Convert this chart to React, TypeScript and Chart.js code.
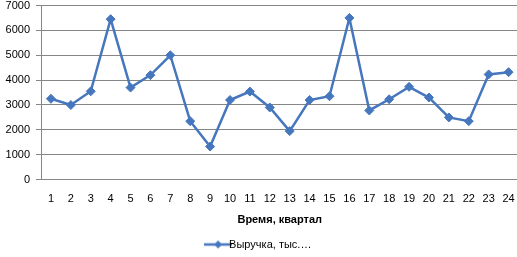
import React, { useEffect, useRef } from "react";
import { Chart, registerables } from "chart.js";
Chart.register(...registerables);

const categories = ["1","2","3","4","5","6","7","8","9","10","11","12","13","14","15","16","17","18","19","20","21","22","23","24"];
const revenue = [3250, 3000, 3550, 6450, 3700, 4200, 5000, 2350, 1330, 3200, 3540, 2900, 1950, 3200, 3350, 6500, 2780, 3230, 3730, 3300, 2500, 2350, 4230, 4320];
const seriesName = "Выручка, тыс.…";
const xTitle = "Время, квартал";
const yMin = 0;
const yMax = 7000;
const yStep = 1000;

const BLUE = "#4677BE";
const FONT = "'Liberation Sans', Arial, sans-serif";

function legendIcon(): HTMLCanvasElement {
  const c = document.createElement("canvas");
  c.width = 28;
  c.height = 10;
  const ctx = c.getContext("2d")!;
  ctx.strokeStyle = BLUE;
  ctx.lineWidth = 2.5;
  ctx.beginPath();
  ctx.moveTo(0, 5);
  ctx.lineTo(28, 5);
  ctx.stroke();
  ctx.fillStyle = BLUE;
  ctx.beginPath();
  ctx.moveTo(14, 1);
  ctx.lineTo(18, 5);
  ctx.lineTo(14, 9);
  ctx.lineTo(10, 5);
  ctx.closePath();
  ctx.fill();
  return c;
}

export default function App() {
  const ref = useRef<HTMLCanvasElement>(null);
  useEffect(() => {
    document.body.style.margin = "0";
    const icon = legendIcon();
    const chart = new Chart(ref.current!, {
      type: "line",
      data: {
        labels: categories,
        datasets: [
          {
            label: seriesName,
            data: revenue,
            borderColor: BLUE,
            backgroundColor: BLUE,
            borderWidth: 2.5,
            pointStyle: "rectRot",
            pointRadius: 4.5,
            pointBackgroundColor: BLUE,
            pointBorderColor: BLUE,
            pointBorderWidth: 1,
            tension: 0,
          },
        ],
      },
      options: {
        animation: false,
        responsive: false,
        layout: { padding: { left: 0, right: 0, top: 0, bottom: -3 } },
        plugins: {
          tooltip: { enabled: false },
          legend: {
            position: "bottom",
            labels: {
              usePointStyle: true,
              color: "#000",
              font: { family: FONT, size: 11 },
              padding: 6,
              generateLabels: () => [
                {
                  text: seriesName,
                  pointStyle: icon,
                  fillStyle: BLUE,
                  strokeStyle: BLUE,
                  lineWidth: 0,
                  datasetIndex: 0,
                  hidden: false,
                },
              ],
            },
          },
        },
        scales: {
          x: {
            offset: true,
            grid: { display: false, drawTicks: true, tickLength: 13 },
            border: { display: true, color: "#868686" },
            ticks: { color: "#000", font: { family: FONT, size: 11 }, padding: 0, maxRotation: 0, autoSkip: false },
            title: { display: true, text: xTitle, color: "#000", font: { family: FONT, size: 11, weight: "bold" }, padding: { top: 8, bottom: 6 } },
          },
          y: {
            min: yMin,
            max: yMax,
            grid: { color: "#868686", tickLength: 5, tickColor: "#868686" },
            border: { display: true, color: "#868686" },
            ticks: { stepSize: yStep, color: "#000", font: { family: FONT, size: 11 }, padding: 6, callback: (v: any) => String(v) },
            afterFit: (s: any) => { s.width = 41; s.paddingTop = 5; },
          },
        },
      },
    });
    return () => chart.destroy();
  }, []);
  return (
    <div style={{ width: 517, height: 257, overflow: "hidden" }}>
      <canvas ref={ref} width={524} height={257} style={{ display: "block" }} />
    </div>
  );
}
